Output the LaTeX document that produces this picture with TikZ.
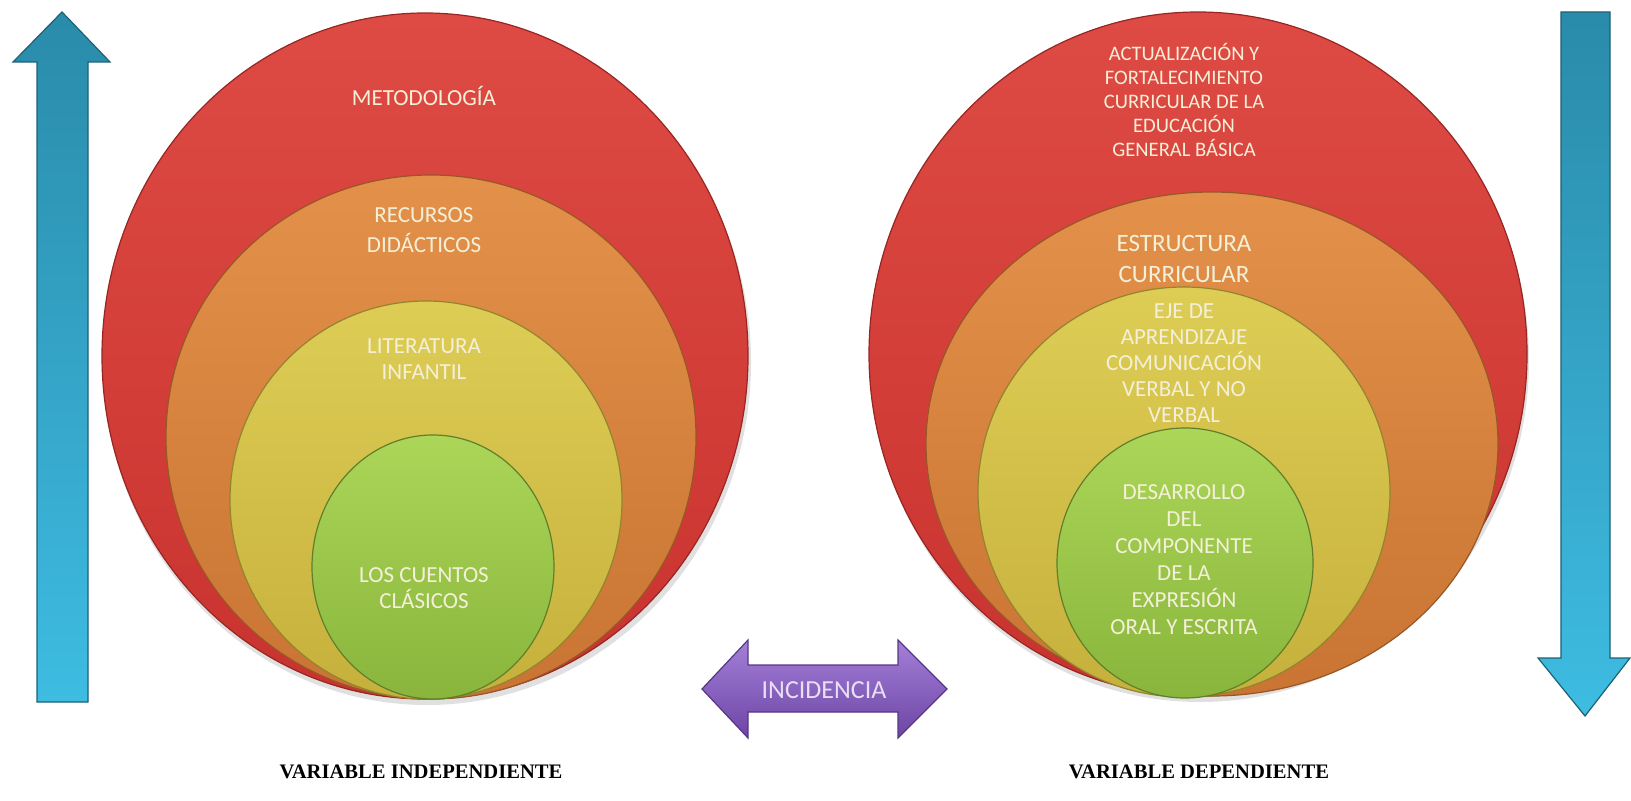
\documentclass[tikz,border=0pt]{standalone}
\usepackage{fontspec}
\setmainfont{Carlito}
\newfontfamily\labelfont{Liberation Serif}
\definecolor{redA}{HTML}{DE4A44}
\definecolor{redB}{HTML}{C9332F}
\definecolor{orangeA}{HTML}{E3914A}
\definecolor{orangeB}{HTML}{C97433}
\definecolor{yellowA}{HTML}{DDCD55}
\definecolor{yellowB}{HTML}{C6B03C}
\definecolor{greenA}{HTML}{ABD658}
\definecolor{greenB}{HTML}{89B53C}
\definecolor{blueA}{HTML}{2A8BAA}
\definecolor{blueB}{HTML}{3EBCE2}
\definecolor{purpleA}{HTML}{A480D8}
\definecolor{purpleB}{HTML}{6D45A6}
\definecolor{cream}{HTML}{F4F0D8}
\begin{document}
\begin{tikzpicture}[x=0.5pt,y=-0.5pt,
	redball/.style={top color=redA,bottom color=redB,draw=redB!75!black,line width=0.6pt},
	orangeball/.style={top color=orangeA,bottom color=orangeB,draw=orangeB!75!black,line width=0.6pt},
	yellowball/.style={top color=yellowA,bottom color=yellowB,draw=yellowB!75!black,line width=0.6pt},
	greenball/.style={top color=greenA,bottom color=greenB,draw=greenB!70!black,line width=0.6pt},
	bluearrow/.style={top color=blueA,bottom color=blueB,draw=blueA!70!black,line width=0.6pt},
	purplearrow/.style={top color=purpleA,bottom color=purpleB,draw=purpleB!80!black,line width=0.6pt},
	balltext/.style={text=cream,align=center,inner sep=0pt,font=\fontsize{11.5}{13}\selectfont},
	varlabel/.style={inner sep=0pt,font=\labelfont\bfseries\fontsize{10.3}{12}\selectfont}]
	
	\useasboundingbox (0,0) rectangle (1631,801);
	
	\fill[black,opacity=0.12] (427,362) ellipse [x radius=162pt, y radius=171.5pt];
	\fill[black,opacity=0.12] (1200,360) ellipse [x radius=164.5pt, y radius=171pt];
	
	\path[redball]    (425,356) ellipse [x radius=161.5pt, y radius=171.5pt];
	\path[orangeball] (431,437) ellipse [x radius=132.5pt, y radius=131pt];
	\path[yellowball] (426,500) ellipse [x radius=98pt, y radius=99.5pt];
	\path[greenball]  (433,567) ellipse [x radius=60.5pt, y radius=66pt];
	
	\path[redball]    (1198,354) ellipse [x radius=164.5pt, y radius=171pt];
	\path[orangeball] (1212,444) ellipse [x radius=143pt, y radius=126pt];
	\path[yellowball] (1184,492) ellipse [x radius=103pt, y radius=102.5pt];
	\path[greenball]  (1185,563) ellipse [x radius=64pt, y radius=67.5pt];
	
	\path[bluearrow] (37,702) -- (37,62) -- (13,62) -- (62,12) -- (110,62) -- (88,62) -- (88,702) -- cycle;
	\path[bluearrow] (1561,12) -- (1610,12) -- (1610,658) -- (1630,658) -- (1585,716) -- (1538,658) -- (1561,658) -- cycle;
	\path[purplearrow] (702,689) -- (748,640) -- (748,665) -- (898,665) -- (898,640) -- (947,689) -- (898,738) -- (898,712) -- (748,712) -- (748,738) -- cycle;
	
	\node[balltext] (metodologia) at (424,96)  {METODOLOGÍA};
	\node[balltext,font=\fontsize{11.5}{15}\selectfont] (recursos) at (424,230) {RECURSOS\\DIDÁCTICOS};
	\node[balltext] (literatura)  at (424,359) {LITERATURA\\INFANTIL};
	\node[balltext] (cuentos)     at (424,588) {LOS CUENTOS\\CLÁSICOS};
	
	\node[balltext,font=\fontsize{10.3}{12}\selectfont] (actualizacion) at (1184,100) {ACTUALIZACIÓN Y\\FORTALECIMIENTO\\CURRICULAR DE LA\\EDUCACIÓN\\GENERAL BÁSICA};
	\node[balltext,font=\fontsize{12.5}{15.5}\selectfont] (estructura) at (1184,259) {ESTRUCTURA\\CURRICULAR};
	\node[balltext] (eje)        at (1184,363) {EJE DE\\APRENDIZAJE\\COMUNICACIÓN\\VERBAL Y NO\\VERBAL};
	\node[balltext,font=\fontsize{11.5}{13.5}\selectfont] (desarrollo) at (1184,560) {DESARROLLO\\DEL\\COMPONENTE\\DE LA\\EXPRESIÓN\\ORAL Y ESCRITA};
	
	\node[inner sep=0pt,text=purpleA!25!white,font=\fontsize{13}{15}\selectfont] (incidencia) at (824,690) {INCIDENCIA};
	
	\node[varlabel] (varind) at (421,772) {VARIABLE INDEPENDIENTE};
	\node[varlabel] (vardep) at (1199,772) {VARIABLE DEPENDIENTE};
	
\end{tikzpicture}
\end{document}
